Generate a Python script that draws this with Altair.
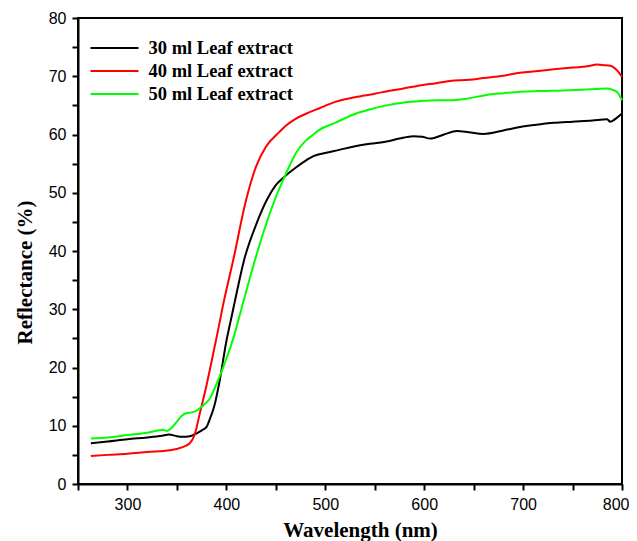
import altair as alt
import pandas as pd

series_names = ["30 ml Leaf extract", "40 ml Leaf extract", "50 ml Leaf extract"]
series_colors = ["#000000", "#ff0000", "#00ff00"]

wl_30 = [263, 280, 300, 320, 335, 342, 350, 356, 363, 370, 376, 380, 383, 388, 393, 400, 405, 410, 418, 430, 441,
         450, 459, 470, 481, 488, 494, 515, 528, 545, 562, 575, 589, 598, 606, 620, 633, 645, 660, 680, 697,
         715, 731, 750, 770, 785, 788, 795, 800]
val_30 = [7.0, 7.3, 7.7, 8.0, 8.3, 8.5, 8.2, 8.1, 8.2, 8.7, 9.3, 9.8, 11.0, 13.5, 17.5, 24.5, 28.5, 32.5, 38.5, 44.5, 48.8,
          51.3, 52.8, 54.3, 55.6, 56.3, 56.6, 57.4, 57.9, 58.4, 58.8, 59.3, 59.7, 59.6, 59.3, 60.0, 60.6, 60.4, 60.1, 60.7, 61.3,
          61.7, 62.0, 62.2, 62.4, 62.6, 62.2, 62.9, 63.6]

wl_40 = [263, 280, 300, 320, 343, 355, 363, 368, 373, 380, 385, 391, 397, 407, 420, 430, 440, 454, 460, 470,
         481, 494, 510, 530, 550, 565, 579, 599, 612, 626, 646, 660, 680, 697, 715, 731, 750, 765, 775, 782,
         788, 795, 800]
val_40 = [4.8, 5.0, 5.2, 5.5, 5.8, 6.3, 7.0, 8.5, 12.0, 17.0, 21.0, 25.9, 31.0, 38.5, 48.8, 54.5, 57.9, 60.5, 61.5, 62.7,
          63.6, 64.5, 65.6, 66.4, 67.0, 67.5, 67.9, 68.5, 68.8, 69.2, 69.4, 69.7, 70.1, 70.6, 70.9, 71.2, 71.5, 71.7, 72.0, 71.9,
          71.8, 71.0, 69.9]

wl_50 = [263, 280, 300, 320, 336, 340, 345, 350, 355, 360, 365, 370, 376, 383, 393, 400, 407, 418, 429, 440,
         449, 459, 471, 480, 488, 494, 510, 528, 545, 562, 580, 596, 612, 629, 645, 663, 680, 697, 715, 731,
         760, 785, 790, 795, 800]
val_50 = [7.8, 8.0, 8.4, 8.8, 9.3, 9.1, 9.7, 10.7, 11.7, 12.2, 12.3, 12.6, 13.4, 14.6, 18.4, 21.5, 25.0, 31.8, 38.5, 44.5,
          48.8, 52.8, 57.0, 58.9, 60.0, 60.8, 62.0, 63.4, 64.3, 65.0, 65.5, 65.75, 65.9, 65.9, 66.2, 66.8, 67.1, 67.35, 67.45, 67.5,
          67.7, 67.9, 67.7, 67.3, 65.9]

x_ticks = [250, 300, 350, 400, 450, 500, 550, 600, 650, 700, 750, 800]
y_ticks = [0, 5, 10, 15, 20, 25, 30, 35, 40, 45, 50, 55, 60, 65, 70, 75, 80]

rows = []
for name, wls, vals in zip(series_names, [wl_30, wl_40, wl_50], [val_30, val_40, val_50]):
    for w, v in zip(wls, vals):
        rows.append({"Wavelength": w, "Reflectance": v, "Sample": name})
df = pd.DataFrame(rows)

title_style = dict(titleFont="Liberation Serif", titleFontWeight="bold", titleFontSize=21, titleColor="black")

chart = alt.Chart(df).mark_line(strokeWidth=2, interpolate="monotone").encode(
    x=alt.X("Wavelength:Q", scale=alt.Scale(domain=[250, 800], nice=False),
            axis=alt.Axis(title="Wavelength (nm)", values=x_ticks,
                          labelExpr="datum.value % 100 == 0 ? datum.label : ''",
                          labelFlush=True, labelFlushOffset=7,
                          labelPadding=6, titlePadding=7, titleX=282, **title_style)),
    y=alt.Y("Reflectance:Q", scale=alt.Scale(domain=[0, 80], nice=False),
            axis=alt.Axis(title="Reflectance (%)", values=y_ticks,
                          labelExpr="datum.value % 10 == 0 ? datum.label : ''",
                          labelFlush=False,
                          labelPadding=6, titlePadding=13, titleY=254, **title_style)),
    color=alt.Color("Sample:N", scale=alt.Scale(domain=series_names, range=series_colors),
                    legend=alt.Legend(title=None, orient="none", legendX=23.5, legendY=17,
                                      symbolType="M-2,0H2", symbolSize=576, symbolStrokeWidth=2,
                                      labelOffset=21, padding=0, rowPadding=0,
                                      labelFont="Liberation Serif", labelFontWeight="bold",
                                      labelFontSize=18.5, labelColor="black", labelLimit=300)),
).properties(
    width=544, height=466,
    autosize=alt.AutoSizeParams(type="none"),
    padding={"left": 70, "top": 10, "right": 7, "bottom": 57},
).configure_view(
    stroke="black", strokeWidth=2
).configure_axis(
    domainColor="black", domainWidth=2, tickColor="black", tickWidth=2, tickSize=6,
    grid=False, labelFont="Liberation Sans", labelFontSize=16, labelColor="black",
    labelOverlap=False
)

chart.save("out.html", embed_options={"renderer": "svg", "actions": False})
